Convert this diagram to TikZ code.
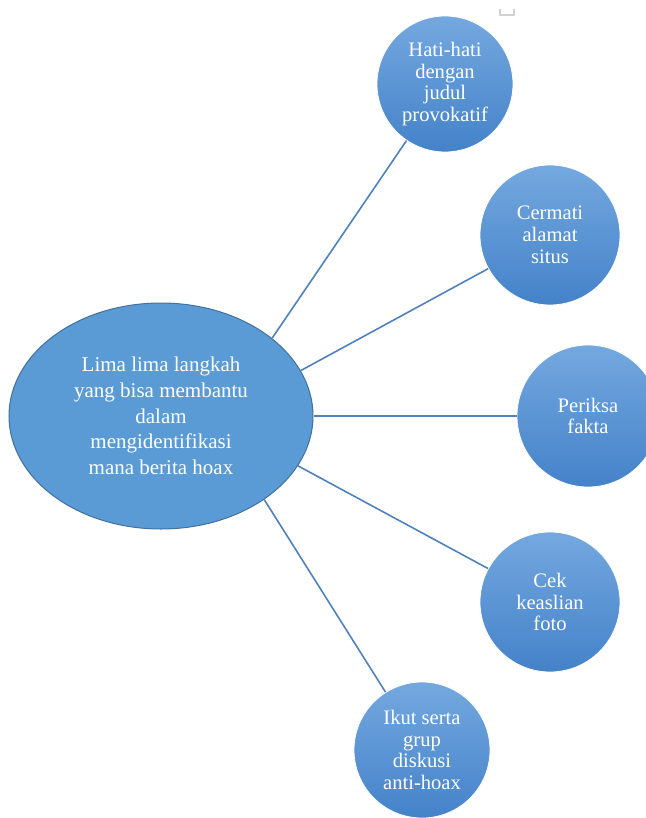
\documentclass[tikz,border=0pt]{standalone}
\usepackage{fontspec}
\setmainfont{Liberation Serif}
\usetikzlibrary{shapes.geometric}
\definecolor{hubfill}{HTML}{5B9BD5}
\definecolor{hubdraw}{HTML}{41719C}
\definecolor{toptone}{HTML}{74A8DF}
\definecolor{bottone}{HTML}{4482C9}
\definecolor{linkcol}{HTML}{4F81BD}
\begin{document}
\begin{tikzpicture}[x=0.5pt,y=-0.5pt,
  hub/.style={ellipse, fill=hubfill, draw=hubdraw, line width=0.5pt,
    minimum width=152pt, minimum height=113pt, inner sep=0pt,
    text=white, align=center, font=\fontsize{10.5}{12.8}\selectfont},
  leaf/.style={circle, top color=toptone, bottom color=bottone,
    draw=white, line width=0.4pt, inner sep=0pt,
    text=white, align=center, font=\fontsize{10.3}{10.9}\selectfont},
  link/.style={draw=linkcol, line width=0.8pt}]
\useasboundingbox (0,0) rectangle (646,818);
\draw[gray!35, line width=0.6pt] (500,9) -- (500,15) -- (514,15) -- (514,9);
\node[hub] (c) at (161,416) {Lima lima langkah\\yang bisa membantu\\dalam\\mengidentifikasi\\mana berita hoax};
\node[leaf, minimum size=68pt] (n1) at (445,84) {Hati-hati\\dengan\\judul\\provokatif};
\node[leaf, minimum size=70pt] (n2) at (550,235) {Cermati\\alamat\\situs};
\node[leaf, minimum size=71pt] (n3) at (588,416) {Periksa\\fakta};
\node[leaf, minimum size=70pt] (n4) at (550,602) {Cek\\keaslian\\foto};
\node[leaf, minimum size=68pt] (n5) at (422,750) {Ikut serta\\grup\\diskusi\\anti-hoax};
\draw[link] (c.35) -- (n1);
\draw[link] (c.18) -- (n2);
\draw[link] (c.east) -- (n3);
\draw[link] (c.-20) -- (n4);
\draw[link] (c.-39) -- (n5);
\end{tikzpicture}
\end{document}
